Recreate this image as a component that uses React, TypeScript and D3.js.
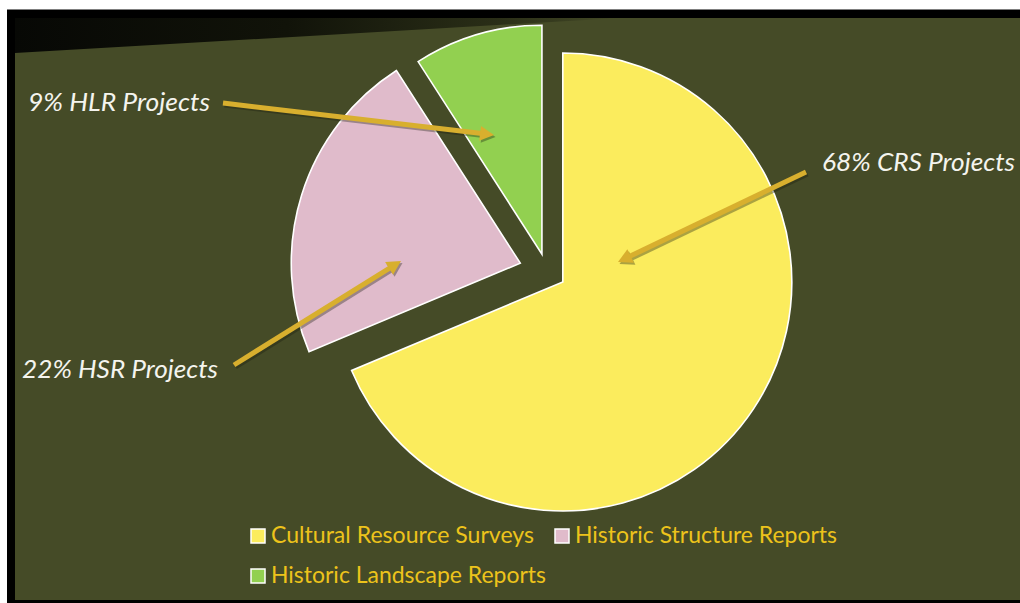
import React from 'react';
import * as d3 from 'd3';

// ---- data ----
const categories = ['Cultural Resource Surveys', 'Historic Structure Reports', 'Historic Landscape Reports'];
const values = [68, 22, 9];
const calloutTexts = ['68% CRS Projects', '22% HSR Projects', '9% HLR Projects'];

// ---- styles / layout ----
const sliceColors = ['#FBEC5D', '#E0BBCB', '#92D050'];
const explode = [19, 28, 18];
const W = 1020;
const H = 603;
const CX = 547;
const CY = 271.5;
const R = 229;
const OLIVE = '#454B27';
const ARROW = '#D8AF2E';

const callouts = [
  { x: 822, y: 171, w: 193, from: [806, 172], to: [618, 262] },
  { x: 22, y: 378, w: 196, from: [234, 365], to: [401, 261] },
  { x: 28, y: 111, w: 182, from: [223, 103], to: [494, 135] },
];

const legendItems = [
  { x: 251, y: 529, tw: 263 },
  { x: 555, y: 529, tw: 262 },
  { x: 251, y: 569, tw: 275 },
];

function Arrow({ from, to }: { from: number[]; to: number[] }) {
  const dx = to[0] - from[0];
  const dy = to[1] - from[1];
  const len = Math.hypot(dx, dy);
  const ux = dx / len;
  const uy = dy / len;
  const px = -uy;
  const py = ux;
  const hl = 14;
  const hw = 7.5;
  const bx = to[0] - ux * hl;
  const by = to[1] - uy * hl;
  const head = `${to[0]},${to[1]} ${bx + px * hw},${by + py * hw} ${bx - px * hw},${by - py * hw}`;
  return (
    <g>
      <g transform="translate(1.5,2)" opacity={0.35}>
        <line x1={from[0]} y1={from[1]} x2={bx + ux * 2} y2={by + uy * 2} stroke="#1a1c0e" strokeWidth={5} />
        <polygon points={head} fill="#1a1c0e" />
      </g>
      <line x1={from[0]} y1={from[1]} x2={bx + ux * 2} y2={by + uy * 2} stroke={ARROW} strokeWidth={5} />
      <polygon points={head} fill={ARROW} />
    </g>
  );
}

export default function App() {
  const pie = d3.pie<number>().sort(null).value((d) => d);
  const arcs = pie(values);
  const arcGen = d3.arc<d3.PieArcDatum<number>>().innerRadius(0).outerRadius(R);

  return (
    <svg width={W} height={H} style={{ position: 'absolute', left: 0, top: 0 }} fontFamily="Lato, 'Open Sans', sans-serif">
      <defs>
        <linearGradient id="wedge" x1="15" y1="0" x2="620" y2="0" gradientUnits="userSpaceOnUse">
          <stop offset="0" stopColor="#070805" />
          <stop offset="0.45" stopColor="#111309" />
          <stop offset="0.8" stopColor="#2a2e17" />
          <stop offset="1" stopColor={OLIVE} />
        </linearGradient>
      </defs>
      <rect x={0} y={0} width={W} height={H} fill="#ffffff" />
      <rect x={7} y={9.5} width={W - 7} height={H - 9.5} fill="#000000" />
      <rect x={15} y={18} width={W - 15} height={600 - 18} fill={OLIVE} />
      <polygon points="15,18 620,18 15,53" fill="url(#wedge)" />

      <g>
        {arcs.map((a, i) => {
          const mid = (a.startAngle + a.endAngle) / 2;
          const ox = Math.sin(mid) * explode[i];
          const oy = -Math.cos(mid) * explode[i];
          return (
            <path
              key={categories[i]}
              d={arcGen(a) || ''}
              transform={`translate(${CX + ox},${CY + oy})`}
              fill={sliceColors[i]}
              stroke="#ffffff"
              strokeWidth={1.6}
              strokeLinejoin="miter"
            />
          );
        })}
      </g>

      {callouts.map((c, i) => (
        <g key={calloutTexts[i]}>
          <Arrow from={c.from} to={c.to} />
          <text
            x={c.x}
            y={c.y}
            fill="#F4F4EE"
            fontStyle="italic"
            fontSize={25}
            textLength={c.w}
            lengthAdjust="spacingAndGlyphs"
          >
            {calloutTexts[i]}
          </text>
        </g>
      ))}

      {categories.map((cat, i) => {
        const it = legendItems[i];
        return (
          <g key={cat}>
            <rect x={it.x} y={it.y} width={14} height={14} fill={sliceColors[i]} stroke="#ffffff" strokeWidth={1.5} />
            <text
              x={it.x + 20}
              y={it.y + 14}
              fill="#EDC31B"
              fontSize={23}
              textLength={it.tw}
              lengthAdjust="spacingAndGlyphs"
            >
              {cat}
            </text>
          </g>
        );
      })}
    </svg>
  );
}
